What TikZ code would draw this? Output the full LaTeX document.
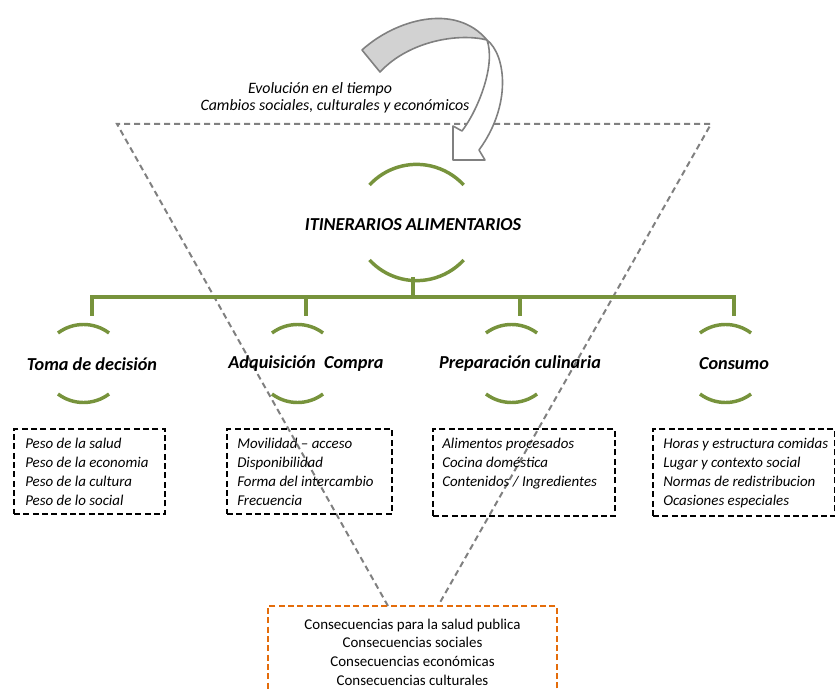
\documentclass[tikz,border=0pt]{standalone}
\usepackage{fontspec}
\setmainfont{Carlito}
\usepackage{tikz}
\usetikzlibrary{positioning}
\definecolor{olivegreen}{RGB}{119,147,60}
\definecolor{conorange}{RGB}{228,108,10}
\definecolor{trigray}{RGB}{128,128,128}
\definecolor{arrowfill}{RGB}{210,210,210}

\begin{document}
\begin{tikzpicture}[x=0.75pt,y=-0.75pt,
  branch/.style={olivegreen,line width=2.6pt},
  tri/.style={trigray,line width=1.5pt,dash pattern=on 4.5pt off 3pt},
  stage/.style={font=\fontsize{13.7}{16}\selectfont\bfseries\itshape},
  listbox/.style={draw,line width=1.7pt,dash pattern=on 4.5pt off 2.5pt,anchor=north west,inner sep=0pt},
  listtext/.style={anchor=north west,inner sep=0pt,align=left,font=\fontsize{11.2}{14.25}\selectfont\itshape}]
\useasboundingbox (0,0) rectangle (835,691);

% dashed triangle
\coordinate (tl) at (117,124);
\coordinate (tr) at (711,124);
\coordinate (lend) at (388,606);
\coordinate (rend) at (438,606);
\draw[tri] (lend) -- (tl) -- (tr) -- (rend);

% curved arrow
\draw[trigray,line width=1.2pt,fill=white,line join=round] (487,40) .. controls (506,55) and (512,105) .. (479,150)
  -- (485,160) -- (453,160) -- (453,126) -- (462,131) .. controls (478,110) and (496,65) .. (487,40);
\draw[trigray,line width=1.2pt,fill=arrowfill,line join=round] (362,50) .. controls (395,20) and (455,2) .. (487,40)
  .. controls (460,33) and (410,40) .. (380,72) -- cycle;
\node[font=\fontsize{11.9}{14}\selectfont\itshape] (evo) at (320,89) {Evolución en el tiempo};
\node[font=\fontsize{11.9}{14}\selectfont\itshape] (cambios) at (335,106) {Cambios sociales, culturales y económicos};

% main branch
\node[stage] (itin) at (413,225) {ITINERARIOS ALIMENTARIOS};
\coordinate (itin-bot) at (413,277);
\coordinate (bar) at (413,297);
\draw[branch] (369.5,185) arc[start angle=-137.3, end angle=-42.7, radius=64.1];
\draw[branch] (369.5,260) arc[start angle=137.3, end angle=42.7, radius=64.1];
\draw[branch] (itin-bot) -- (bar);

\foreach \x/\n/\t in {92/toma/Toma de decisión, 306/adq/Adquisición\ \ Compra, 520/prep/Preparación culinaria, 734/cons/Consumo}{
  \node[stage] (\n) at (\x,364) {\t};
  \coordinate (\n-top) at (\x,316);
  \draw[branch] (\x-34,333) arc[start angle=-126.9, end angle=-53.1, radius=42.5];
  \draw[branch] (\x-34,394) arc[start angle=126.9, end angle=53.1, radius=42.5];
  \draw[branch] (bar) -| (\n-top);
}

% lists
\node[listbox,minimum width=113.25pt,minimum height=63.75pt] (box1) at (13,428) {};
\node[listbox,minimum width=123.75pt,minimum height=63.75pt] (box2) at (226,428) {};
\node[listbox,minimum width=136.5pt,minimum height=65.25pt] (box3) at (432,428) {};
\node[listbox,minimum width=136.5pt,minimum height=65.25pt] (box4) at (652,428) {};
\node[listtext] (list1) at (25,437.5) {Peso de la salud\\Peso de la economia\\Peso de la cultura\\Peso de lo social};
\node[listtext] (list2) at (237,437.5) {Movilidad -- acceso\\Disponibilidad\\Forma del intercambio\\Frecuencia};
\node[listtext] (list3) at (442,437.5) {Alimentos procesados\\Cocina doméstica\\Contenidos / Ingredientes};
\node[listtext] (list4) at (663,437.5) {Horas y estructura comidas\\Lugar y contexto social\\Normas de redistribucion\\Ocasiones especiales};

% consequences
\node[draw=conorange,line width=1.5pt,dash pattern=on 4.5pt off 2.5pt,minimum width=216.75pt,minimum height=69pt,
  align=center,font=\fontsize{11.2}{14}\selectfont] (conseq) at (412.5,652)
  {Consecuencias para la salud publica\\Consecuencias sociales\\Consecuencias económicas\\Consecuencias culturales};
\end{tikzpicture}
\end{document}
